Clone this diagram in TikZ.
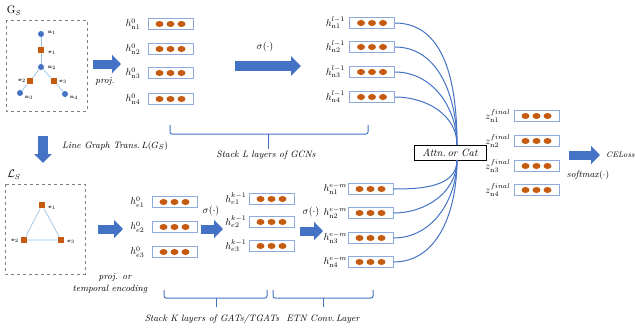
\documentclass[tikz,border=0pt]{standalone}
\usetikzlibrary{arrows.meta,positioning}
\definecolor{myblue}{HTML}{4472C4}
\definecolor{boxblue}{HTML}{8FAADC}
\definecolor{dotor}{HTML}{C55A11}
\definecolor{edgeblue}{HTML}{9DC3E6}
\begin{document}
\begin{tikzpicture}[x=1pt,y=-1pt,font=\fontsize{9.3}{11}\selectfont,
  vbox/.style={draw=boxblue,line width=0.8pt,minimum width=45pt,minimum height=11pt,inner sep=0pt,
    path picture={\foreach \dx in {-11,0,11}{\fill[dotor] ([xshift=\dx pt]path picture bounding box.center) ellipse (4pt and 3pt);}}},
  lab/.style={inner sep=0pt,font=\fontsize{10}{12}\selectfont},
  gnode/.style={circle,fill=myblue,inner sep=0pt,minimum size=6pt},
  gsq/.style={rectangle,fill=dotor,inner sep=0pt,minimum size=6.5pt},
  gedge/.style={draw=edgeblue,line width=0.7pt},
  tiny/.style={inner sep=0pt,font=\fontsize{5}{6}\selectfont},
  dbox/.style={draw=gray,dashed,line width=0.6pt},
  barrow/.style={draw=myblue,line width=9pt,-{Triangle[length=9pt,width=18pt]}},
  bigarrow/.style={draw=myblue,line width=10pt,-{Triangle[length=10pt,width=19pt]}},
  curve/.style={draw=myblue,line width=1pt},
  bracec/.style={draw=myblue,line width=1pt,rounded corners=2pt},
  itl/.style={inner sep=0pt,font=\fontsize{9.3}{11}\selectfont\itshape}
]
\useasboundingbox (0,0) rectangle (635,333);

% ---------- G_s ----------
\node[lab,font=\fontsize{10.5}{12}\selectfont] (gslab) at (14,11) {$\mathrm{G}_S$};
\draw[dbox] (6,20) rectangle (87,111);
\node[gnode] (n1) at (41,34) {};
\node[gsq] (e1) at (41,50) {};
\node[gnode] (n2) at (41,67) {};
\node[gsq] (e2) at (30,81) {};
\node[gsq] (e3) at (54,81) {};
\node[gnode] (n3) at (20,93) {};
\node[gnode] (n4) at (65,94) {};
\begin{scope}[on background layer/.try]
\draw[gedge] (n1) -- (e1) -- (n2);
\draw[gedge] (n2) -- (e2) -- (n3);
\draw[gedge] (n2) -- (e3) -- (n4);
\end{scope}
\node[tiny] at (52,33) {$\mathbf{n}_1$};
\node[tiny] at (52,53) {$\mathbf{e}_1$};
\node[tiny] at (52,68) {$\mathbf{n}_2$};
\node[tiny] at (22,81) {$\mathbf{e}_2$};
\node[tiny] at (63,82) {$\mathbf{e}_3$};
\node[tiny] at (29,98) {$\mathbf{n}_3$};
\node[tiny] at (74,98) {$\mathbf{n}_4$};

% proj arrow
\coordinate (pa1) at (93,64);
\coordinate (pa2) at (121,64);
\draw[barrow] (pa1) -- (pa2);
\node[itl] at (105,81) {proj.};

% h^0_n boxes
\node[vbox] (h01) at (170.5,24) {};
\node[vbox] (h02) at (170.5,49) {};
\node[vbox] (h03) at (170.5,73) {};
\node[vbox] (h04) at (170.5,99) {};
\node[lab,left=7pt of h01] {$h^{0}_{\mathrm{n1}}$};
\node[lab,left=7pt of h02] {$h^{0}_{\mathrm{n2}}$};
\node[lab,left=7pt of h03] {$h^{0}_{\mathrm{n3}}$};
\node[lab,left=7pt of h04] {$h^{0}_{\mathrm{n4}}$};

% sigma arrow top
\coordinate (sa1) at (235,66);
\coordinate (sa2) at (301,66);
\draw[bigarrow] (sa1) -- (sa2);
\node[lab] at (265,47) {$\sigma(\cdot)$};

% h^{l-1} boxes
\node[vbox] (hl1) at (372,23) {};
\node[vbox] (hl2) at (372,47) {};
\node[vbox] (hl3) at (372,72) {};
\node[vbox] (hl4) at (372,97) {};
\node[lab,left=4pt of hl1] {$h^{l-1}_{\mathrm{n1}}$};
\node[lab,left=4pt of hl2] {$h^{l-1}_{\mathrm{n2}}$};
\node[lab,left=4pt of hl3] {$h^{l-1}_{\mathrm{n3}}$};
\node[lab,left=4pt of hl4] {$h^{l-1}_{\mathrm{n4}}$};

% top brace
\draw[bracec] (170,125) -- (170,134) -- (368,134) -- (368,125);
\draw[myblue,line width=1pt] (268,134) -- (268,149);
\node[itl] at (266,155) {Stack L layers of GCNs};

% line graph transform arrow
\coordinate (da1) at (43,136);
\coordinate (da2) at (43,163);
\draw[barrow,line width=10pt,-{Triangle[length=9pt,width=17pt]}] (da1) -- (da2);
\node[itl,anchor=west] at (62,146) {Line Graph Trans.\,$L(G_S)$};

% ---------- L_s ----------
\node[lab,font=\fontsize{10.5}{12}\selectfont] (lslab) at (14,175) {$\mathcal{L}_S$};
\draw[dbox] (5,184) rectangle (85,274);
\node[gsq] (l1) at (42,205) {};
\node[gsq] (l2) at (24,240) {};
\node[gsq] (l3) at (61,240) {};
\begin{scope}[on background layer/.try]
\draw[gedge] (l1) -- (l2) -- (l3) -- (l1);
\end{scope}
\node[tiny] at (52,208) {$\mathbf{e}_1$};
\node[tiny] at (15,241) {$\mathbf{e}_2$};
\node[tiny] at (71,242) {$\mathbf{e}_3$};

% proj / temporal arrow
\coordinate (pb1) at (98,229);
\coordinate (pb2) at (123,229);
\draw[barrow] (pb1) -- (pb2);
\node[itl] at (115,277) {proj. or};
\node[itl] at (110,289) {temporal encoding};

% h^0_e boxes
\node[vbox] (he1) at (174.5,202) {};
\node[vbox] (he2) at (174.5,227) {};
\node[vbox] (he3) at (174.5,252) {};
\node[lab,left=7pt of he1] {$h^{0}_{e1}$};
\node[lab,left=7pt of he2] {$h^{0}_{e2}$};
\node[lab,left=7pt of he3] {$h^{0}_{e3}$};

% sigma arrow 2
\coordinate (sb1) at (201,229);
\coordinate (sb2) at (223,229);
\draw[barrow] (sb1) -- (sb2);
\node[lab] at (211,211) {$\sigma(\cdot)$};

% h^{k-1}_e boxes
\node[vbox] (hk1) at (271.5,199) {};
\node[vbox] (hk2) at (271.5,222) {};
\node[vbox] (hk3) at (271.5,246) {};
\node[lab,left=2pt of hk1] {$h^{k-1}_{e1}$};
\node[lab,left=2pt of hk2] {$h^{k-1}_{e2}$};
\node[lab,left=2pt of hk3] {$h^{k-1}_{e3}$};

% sigma arrow 3
\coordinate (sc1) at (300,231);
\coordinate (sc2) at (323,231);
\draw[barrow] (sc1) -- (sc2);
\node[lab] at (311,212) {$\sigma(\cdot)$};

% h^{e-m} boxes
\node[vbox] (hm1) at (370.5,189) {};
\node[vbox] (hm2) at (370.5,213) {};
\node[vbox] (hm3) at (370.5,238) {};
\node[vbox] (hm4) at (370.5,262) {};
\node[lab,left=0.5pt of hm1] {$h^{e-m}_{\mathrm{n1}}$};
\node[lab,left=0.5pt of hm2] {$h^{e-m}_{\mathrm{n2}}$};
\node[lab,left=0.5pt of hm3] {$h^{e-m}_{\mathrm{n3}}$};
\node[lab,left=0.5pt of hm4] {$h^{e-m}_{\mathrm{n4}}$};

% bottom braces
\draw[bracec] (164,290) -- (164,298) -- (267,298) -- (267,290);
\draw[myblue,line width=1pt] (216,298) -- (216,307);
\node[itl] at (212,319) {Stack K layers of GATs/TGATs};
\draw[bracec] (273,290) -- (273,298) -- (373,298) -- (373,290);
\draw[myblue,line width=1pt] (323,298) -- (323,307);
\node[itl] at (323,319) {ETN Conv.\,Layer};

% ---------- Attn ----------
\node[draw=black,line width=0.8pt,fill=white,minimum width=72pt,minimum height=15pt,inner sep=1pt,
  font=\fontsize{10.5}{12}\selectfont\itshape] (attn) at (450,152.5) {Attn.\,or Cat};
\coordinate (atop) at (457,145);
\coordinate (abot) at (457,160);
\foreach \b in {hl1,hl2,hl3,hl4}{\draw[curve] (\b.east) to[out=0,in=90] (atop);}
\foreach \b in {hm1,hm2,hm3,hm4}{\draw[curve] (\b.east) to[out=0,in=-90] (abot);}

% z final boxes
\node[vbox] (z1) at (536.5,116) {};
\node[vbox] (z2) at (536.5,141) {};
\node[vbox] (z3) at (536.5,166) {};
\node[vbox] (z4) at (536.5,190) {};
\node[lab,left=3pt of z1] {$z^{final}_{\mathrm{n1}}$};
\node[lab,left=3pt of z2] {$z^{final}_{\mathrm{n2}}$};
\node[lab,left=3pt of z3] {$z^{final}_{\mathrm{n3}}$};
\node[lab,left=3pt of z4] {$z^{final}_{\mathrm{n4}}$};

% output arrow
\coordinate (oa1) at (569,155);
\coordinate (oa2) at (600,155);
\draw[barrow] (oa1) -- (oa2);
\node[itl,anchor=west,font=\fontsize{8}{10}\selectfont\itshape] at (606,155) {CELoss};
\node[lab,font=\fontsize{9.3}{11}\selectfont] at (588,175) {\textit{softmax}$(\cdot)$};
\end{tikzpicture}
\end{document}
